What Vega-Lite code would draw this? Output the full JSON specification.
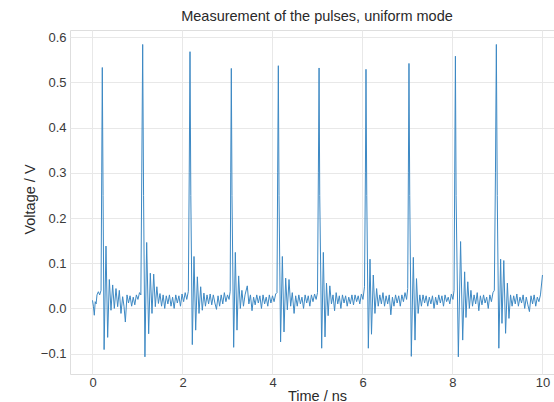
{
  "$schema": "https://vega.github.io/schema/vega-lite/v6.json",
  "width": 484,
  "height": 344,
  "autosize": {"type": "none"},
  "padding": {"left": 70, "top": 30, "right": 0, "bottom": 28},
  "background": "white",
  "config": {
    "font": "Liberation Sans",
    "view": {"stroke": "#dedede", "strokeWidth": 1},
    "axis": {
      "grid": true,
      "gridColor": "#e8e8e8",
      "gridWidth": 1,
      "domain": false,
      "ticks": false,
      "labelFont": "Liberation Sans",
      "labelFontSize": 13,
      "labelColor": "#3a3a3a",
      "titleFont": "Liberation Sans",
      "titleFontSize": 14.5,
      "titleFontWeight": "normal",
      "titleColor": "#2a2a2a"
    }
  },
  "title": {
    "text": "Measurement of the pulses, uniform mode",
    "font": "Liberation Sans",
    "fontSize": 14.5,
    "fontWeight": "normal",
    "color": "#2a2a2a",
    "anchor": "middle",
    "offset": 6,
    "dx": 5
  },
  "data": {
    "values": [
      {"t": 0.0, "v": 0.018}, {"t": 0.02, "v": 0.005}, {"t": 0.04, "v": -0.015}, {"t": 0.06, "v": 0.015}, {"t": 0.08, "v": 0.01}, {"t": 0.1, "v": 0.03}, {"t": 0.13, "v": 0.037}, {"t": 0.16, "v": 0.03}, {"t": 0.19, "v": 0.04},
      {"t": 0.205, "v": 0.3}, {"t": 0.218, "v": 0.533}, {"t": 0.235, "v": 0.25}, {"t": 0.258, "v": -0.091}, {"t": 0.3, "v": 0.138}, {"t": 0.337, "v": -0.064}, {"t": 0.374, "v": 0.064}, {"t": 0.411, "v": -0.004}, {"t": 0.448, "v": 0.052}, {"t": 0.485, "v": 0.0}, {"t": 0.522, "v": 0.044}, {"t": 0.559, "v": 0.004}, {"t": 0.596, "v": 0.04}, {"t": 0.633, "v": -0.011}, {"t": 0.67, "v": 0.026}, {"t": 0.7, "v": 0.005}, {"t": 0.73, "v": -0.03}, {"t": 0.767, "v": 0.03}, {"t": 0.8, "v": 0.012}, {"t": 0.835, "v": 0.028}, {"t": 0.87, "v": 0.005}, {"t": 0.905, "v": 0.025}, {"t": 0.94, "v": 0.008}, {"t": 0.975, "v": 0.03}, {"t": 1.01, "v": 0.02}, {"t": 1.045, "v": 0.035}, {"t": 1.075, "v": 0.03},
      {"t": 1.095, "v": 0.3}, {"t": 1.115, "v": 0.584}, {"t": 1.135, "v": 0.25}, {"t": 1.165, "v": -0.107}, {"t": 1.204, "v": 0.146}, {"t": 1.248, "v": -0.056}, {"t": 1.285, "v": 0.078}, {"t": 1.322, "v": -0.011}, {"t": 1.36, "v": 0.076}, {"t": 1.396, "v": 0.004}, {"t": 1.43, "v": 0.048}, {"t": 1.465, "v": 0.011}, {"t": 1.5, "v": 0.033}, {"t": 1.535, "v": 0.005}, {"t": 1.57, "v": 0.03}, {"t": 1.605, "v": 0.0}, {"t": 1.64, "v": 0.028}, {"t": 1.675, "v": 0.01}, {"t": 1.71, "v": 0.03}, {"t": 1.745, "v": 0.005}, {"t": 1.78, "v": 0.025}, {"t": 1.815, "v": 0.0}, {"t": 1.85, "v": 0.03}, {"t": 1.885, "v": 0.012}, {"t": 1.92, "v": 0.028}, {"t": 1.955, "v": 0.005}, {"t": 1.99, "v": 0.032}, {"t": 2.025, "v": 0.015}, {"t": 2.06, "v": 0.035}, {"t": 2.095, "v": 0.02}, {"t": 2.13, "v": 0.038},
      {"t": 2.15, "v": 0.3}, {"t": 2.167, "v": 0.568}, {"t": 2.185, "v": 0.25}, {"t": 2.218, "v": -0.08}, {"t": 2.256, "v": 0.115}, {"t": 2.293, "v": -0.048}, {"t": 2.33, "v": 0.07}, {"t": 2.367, "v": -0.011}, {"t": 2.404, "v": 0.048}, {"t": 2.44, "v": -0.004}, {"t": 2.476, "v": 0.034}, {"t": 2.51, "v": 0.005}, {"t": 2.545, "v": 0.03}, {"t": 2.58, "v": 0.01}, {"t": 2.615, "v": 0.032}, {"t": 2.65, "v": 0.008}, {"t": 2.685, "v": 0.03}, {"t": 2.72, "v": 0.012}, {"t": 2.755, "v": -0.002}, {"t": 2.79, "v": 0.028}, {"t": 2.825, "v": 0.005}, {"t": 2.86, "v": 0.03}, {"t": 2.895, "v": 0.01}, {"t": 2.93, "v": 0.035}, {"t": 2.965, "v": 0.015}, {"t": 3.0, "v": 0.03}, {"t": 3.035, "v": 0.02}, {"t": 3.06, "v": 0.038},
      {"t": 3.072, "v": 0.3}, {"t": 3.085, "v": 0.531}, {"t": 3.1, "v": 0.25}, {"t": 3.137, "v": -0.086}, {"t": 3.174, "v": 0.124}, {"t": 3.211, "v": -0.048}, {"t": 3.248, "v": 0.072}, {"t": 3.285, "v": 0.0}, {"t": 3.32, "v": 0.04}, {"t": 3.355, "v": 0.005}, {"t": 3.39, "v": 0.03}, {"t": 3.44, "v": 0.05}, {"t": 3.475, "v": 0.01}, {"t": 3.51, "v": 0.03}, {"t": 3.545, "v": -0.005}, {"t": 3.58, "v": 0.025}, {"t": 3.615, "v": 0.008}, {"t": 3.65, "v": 0.03}, {"t": 3.685, "v": 0.012}, {"t": 3.72, "v": 0.028}, {"t": 3.755, "v": 0.0}, {"t": 3.79, "v": 0.03}, {"t": 3.825, "v": 0.01}, {"t": 3.86, "v": 0.025}, {"t": 3.895, "v": 0.005}, {"t": 3.93, "v": 0.03}, {"t": 3.965, "v": 0.012}, {"t": 4.0, "v": 0.028}, {"t": 4.035, "v": 0.015}, {"t": 4.07, "v": 0.032}, {"t": 4.1, "v": 0.035},
      {"t": 4.115, "v": 0.3}, {"t": 4.13, "v": 0.537}, {"t": 4.145, "v": 0.25}, {"t": 4.18, "v": -0.074}, {"t": 4.219, "v": 0.115}, {"t": 4.256, "v": -0.052}, {"t": 4.293, "v": 0.067}, {"t": 4.33, "v": -0.003}, {"t": 4.367, "v": 0.064}, {"t": 4.404, "v": 0.005}, {"t": 4.44, "v": 0.035}, {"t": 4.48, "v": -0.011}, {"t": 4.515, "v": 0.028}, {"t": 4.55, "v": 0.005}, {"t": 4.585, "v": 0.03}, {"t": 4.62, "v": 0.01}, {"t": 4.655, "v": 0.025}, {"t": 4.69, "v": 0.0}, {"t": 4.725, "v": 0.03}, {"t": 4.76, "v": 0.012}, {"t": 4.795, "v": 0.028}, {"t": 4.83, "v": 0.005}, {"t": 4.865, "v": 0.03}, {"t": 4.9, "v": 0.015}, {"t": 4.935, "v": 0.032}, {"t": 4.97, "v": 0.02}, {"t": 5.0, "v": 0.035},
      {"t": 5.02, "v": 0.3}, {"t": 5.035, "v": 0.532}, {"t": 5.05, "v": 0.25}, {"t": 5.093, "v": -0.088}, {"t": 5.13, "v": 0.124}, {"t": 5.167, "v": -0.063}, {"t": 5.2, "v": 0.056}, {"t": 5.237, "v": -0.016}, {"t": 5.274, "v": 0.05}, {"t": 5.31, "v": 0.01}, {"t": 5.345, "v": 0.03}, {"t": 5.38, "v": -0.005}, {"t": 5.415, "v": 0.035}, {"t": 5.45, "v": 0.01}, {"t": 5.485, "v": 0.028}, {"t": 5.52, "v": 0.0}, {"t": 5.555, "v": 0.03}, {"t": 5.59, "v": 0.012}, {"t": 5.625, "v": 0.028}, {"t": 5.66, "v": 0.005}, {"t": 5.695, "v": 0.025}, {"t": 5.73, "v": 0.01}, {"t": 5.765, "v": 0.03}, {"t": 5.8, "v": 0.008}, {"t": 5.835, "v": 0.03}, {"t": 5.87, "v": 0.015}, {"t": 5.905, "v": 0.028}, {"t": 5.94, "v": 0.01}, {"t": 5.975, "v": 0.032}, {"t": 6.01, "v": 0.02}, {"t": 6.045, "v": 0.048},
      {"t": 6.065, "v": 0.3}, {"t": 6.078, "v": 0.529}, {"t": 6.095, "v": 0.25}, {"t": 6.13, "v": -0.088}, {"t": 6.167, "v": 0.109}, {"t": 6.2, "v": -0.057}, {"t": 6.24, "v": 0.074}, {"t": 6.277, "v": -0.011}, {"t": 6.314, "v": 0.044}, {"t": 6.35, "v": 0.005}, {"t": 6.385, "v": 0.03}, {"t": 6.42, "v": 0.01}, {"t": 6.455, "v": 0.035}, {"t": 6.49, "v": 0.005}, {"t": 6.525, "v": 0.028}, {"t": 6.56, "v": 0.01}, {"t": 6.595, "v": 0.03}, {"t": 6.63, "v": -0.014}, {"t": 6.665, "v": 0.025}, {"t": 6.7, "v": 0.005}, {"t": 6.735, "v": 0.03}, {"t": 6.77, "v": 0.012}, {"t": 6.805, "v": 0.028}, {"t": 6.84, "v": 0.005}, {"t": 6.875, "v": 0.03}, {"t": 6.91, "v": 0.015}, {"t": 6.945, "v": 0.035}, {"t": 6.98, "v": 0.02}, {"t": 7.005, "v": 0.044},
      {"t": 7.02, "v": 0.3}, {"t": 7.033, "v": 0.542}, {"t": 7.05, "v": 0.25}, {"t": 7.085, "v": -0.106}, {"t": 7.13, "v": 0.113}, {"t": 7.167, "v": -0.07}, {"t": 7.2, "v": 0.066}, {"t": 7.237, "v": -0.011}, {"t": 7.274, "v": 0.03}, {"t": 7.31, "v": 0.005}, {"t": 7.345, "v": 0.03}, {"t": 7.38, "v": 0.012}, {"t": 7.415, "v": 0.028}, {"t": 7.45, "v": 0.005}, {"t": 7.485, "v": 0.025}, {"t": 7.52, "v": 0.01}, {"t": 7.555, "v": 0.028}, {"t": 7.59, "v": 0.0}, {"t": 7.625, "v": 0.025}, {"t": 7.66, "v": 0.008}, {"t": 7.695, "v": 0.03}, {"t": 7.73, "v": 0.012}, {"t": 7.765, "v": 0.028}, {"t": 7.8, "v": 0.005}, {"t": 7.835, "v": 0.03}, {"t": 7.87, "v": 0.015}, {"t": 7.905, "v": 0.025}, {"t": 7.94, "v": 0.01}, {"t": 7.975, "v": 0.032}, {"t": 8.01, "v": 0.02}, {"t": 8.035, "v": 0.04},
      {"t": 8.05, "v": 0.3}, {"t": 8.065, "v": 0.558}, {"t": 8.08, "v": 0.25}, {"t": 8.13, "v": -0.107}, {"t": 8.18, "v": 0.148}, {"t": 8.227, "v": -0.07}, {"t": 8.27, "v": 0.081}, {"t": 8.3, "v": -0.02}, {"t": 8.34, "v": 0.059}, {"t": 8.375, "v": 0.0}, {"t": 8.41, "v": 0.04}, {"t": 8.445, "v": 0.005}, {"t": 8.48, "v": 0.03}, {"t": 8.515, "v": 0.01}, {"t": 8.55, "v": 0.035}, {"t": 8.585, "v": -0.005}, {"t": 8.62, "v": 0.028}, {"t": 8.655, "v": 0.008}, {"t": 8.69, "v": 0.03}, {"t": 8.725, "v": 0.012}, {"t": 8.76, "v": 0.025}, {"t": 8.795, "v": 0.0}, {"t": 8.83, "v": 0.03}, {"t": 8.865, "v": 0.015}, {"t": 8.9, "v": 0.035}, {"t": 8.93, "v": 0.04},
      {"t": 8.955, "v": 0.3}, {"t": 8.975, "v": 0.584}, {"t": 8.995, "v": 0.25}, {"t": 9.03, "v": -0.088}, {"t": 9.07, "v": 0.109}, {"t": 9.1, "v": -0.033}, {"t": 9.14, "v": 0.106}, {"t": 9.18, "v": -0.055}, {"t": 9.22, "v": 0.056}, {"t": 9.255, "v": -0.022}, {"t": 9.29, "v": 0.03}, {"t": 9.325, "v": 0.005}, {"t": 9.36, "v": 0.028}, {"t": 9.395, "v": 0.01}, {"t": 9.43, "v": 0.032}, {"t": 9.465, "v": 0.005}, {"t": 9.5, "v": 0.025}, {"t": 9.535, "v": 0.012}, {"t": 9.57, "v": 0.03}, {"t": 9.605, "v": 0.0}, {"t": 9.64, "v": 0.025}, {"t": 9.675, "v": 0.008}, {"t": 9.71, "v": -0.007}, {"t": 9.745, "v": 0.028}, {"t": 9.78, "v": 0.01}, {"t": 9.815, "v": 0.03}, {"t": 9.85, "v": 0.005}, {"t": 9.885, "v": 0.025}, {"t": 9.92, "v": 0.015}, {"t": 9.955, "v": 0.03}, {"t": 10.0, "v": 0.074}
    ]
  },
  "mark": {"type": "line", "color": "#3d89c4", "strokeWidth": 1, "clip": true},
  "encoding": {
    "x": {
      "field": "t",
      "type": "quantitative",
      "scale": {"domain": [-0.5, 10.256], "nice": false, "zero": false},
      "axis": {
        "title": "Time / ns",
        "values": [0, 2, 4, 6, 8, 10],
        "format": "d",
        "labelPadding": 2,
        "titleBaseline": "alphabetic",
        "titleY": 26,
        "titleX": 247
      }
    },
    "y": {
      "field": "v",
      "type": "quantitative",
      "scale": {"domain": [-0.145, 0.616], "nice": false, "zero": false},
      "axis": {
        "title": "Voltage / V",
        "values": [-0.1, 0, 0.1, 0.2, 0.3, 0.4, 0.5, 0.6],
        "format": ".1f",
        "labelPadding": 4,
        "titleBaseline": "alphabetic",
        "titleX": -36,
        "titleY": 169
      }
    }
  }
}
